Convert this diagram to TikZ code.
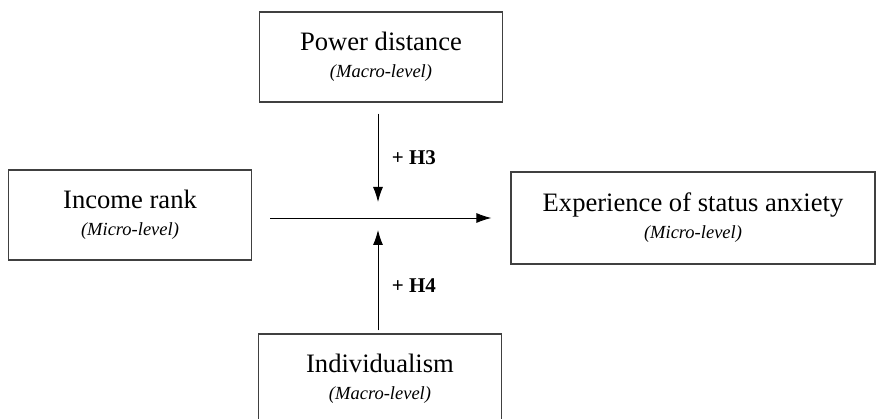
\documentclass[tikz,border=0pt]{standalone}
\usepackage{fontspec}
\setmainfont{Liberation Serif}
\usetikzlibrary{arrows.meta}
\newcommand{\levelnote}[1]{{\fontsize{18.5}{20}\selectfont\itshape (#1-level)}}
\begin{document}
\begin{tikzpicture}[
        x=1pt, y=-1pt,
        box/.style={draw=black!75, line width=1.2pt, minimum width=243pt, minimum height=90pt,
            align=center, inner sep=0pt, font=\fontsize{26.6}{23}\selectfont},
        arr/.style={line width=0.9pt, -{Latex[length=15pt, width=10pt]}},
        hyp/.style={font=\fontsize{21}{22}\selectfont\bfseries}
    ]
        \useasboundingbox (0,0) rectangle (877,419);

        % Moderation diagram
        \node[box] (power) at (381,57) {Power distance\\[4pt]\levelnote{Macro}};
        \node[box] (income) at (130,215) {Income rank\\[4pt]\levelnote{Micro}};
        \node[box, minimum width=364pt, minimum height=92pt] (anxiety) at (693,218) {Experience of status anxiety\\[4pt]\levelnote{Micro}};
        \node[box] (indiv) at (380,379) {Individualism\\[4pt]\levelnote{Macro}};

        % Arrow ends on the main path
        \coordinate (h3end) at (378,202);
        \coordinate (h4end) at (378,230);

        % Main effect and the two moderators
        \draw[arr, shorten <=18pt, shorten >=19pt] (income.east |- 0,218) -- (anxiety.west |- 0,218);
        \draw[arr] (power.south -| h3end) ++(0,11) -- node[hyp, right=10pt] {+ H3} (h3end);
        \draw[arr] (indiv.north -| h4end) ++(0,-3) -- node[hyp, right=10pt, pos=0.45] {+ H4} (h4end);
    \end{tikzpicture}
\end{document}
